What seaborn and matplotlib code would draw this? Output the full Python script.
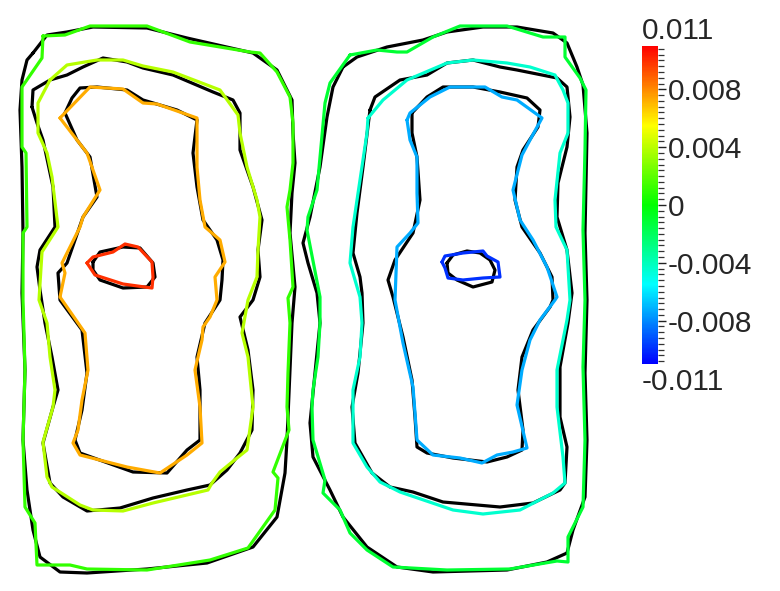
import numpy as np
import matplotlib
matplotlib.use("Agg")
import matplotlib.pyplot as plt
import seaborn as sns
from matplotlib.colors import LinearSegmentedColormap, Normalize
from matplotlib.cm import ScalarMappable
from matplotlib.ticker import MultipleLocator, FixedLocator, FixedFormatter

sns.set_style("white")
plt.rcParams["font.family"] = ["Liberation Sans", "DejaVu Sans"]

# colour scale
VMIN, VMAX = -0.011, 0.011
CBAR_TICKS = [-0.008, -0.004, 0.0, 0.004, 0.008]
CBAR_LABELS = ["-0.008", "-0.004", "0", "0.004", "0.008"]
CBAR_END_LABELS = ["-0.011", "0.011"]

# contour levels of the coloured lines (outer -> inner)
LEFT_LEVELS = [0.0011, 0.0039, 0.0073, 0.0099]
RIGHT_LEVELS = [-0.0011, -0.0044, -0.0073, -0.0099]

# ---- left region, computed contours (coloured) ----
LEFT_C1 = [(43, 36), (65, 35), (90, 26), (147, 26), (190, 42), (250, 52), (260, 53), (277, 72),
           (290, 97), (293, 123), (293, 163), (290, 190), (287, 207), (290, 240), (293, 287),
           (288, 298), (290, 323), (288, 373), (287, 407), (289, 430), (273, 472), (278, 478),
           (275, 510), (248, 548), (210, 560), (147, 570), (87, 569), (70, 565), (37, 565),
           (35, 523), (25, 507), (23, 440), (25, 370), (23, 300), (23, 233), (27, 227),
           (26, 153), (22, 147), (22, 87), (42, 58), (43, 36)]
LEFT_C2 = [(50, 80), (67, 65), (97, 60), (123, 60), (143, 66), (173, 72), (220, 90), (238, 115),
           (240, 133), (247, 167), (257, 200), (260, 217), (258, 250), (257, 277), (248, 300),
           (242, 333), (248, 357), (253, 407), (247, 450), (237, 458), (220, 472), (212, 483),
           (208, 490), (153, 503), (123, 511), (93, 510), (80, 505), (52, 487), (47, 477),
           (43, 442), (53, 407), (55, 390), (50, 357), (47, 323), (39, 300), (42, 252),
           (58, 227), (52, 177), (47, 153), (38, 133), (38, 103), (50, 80)]
LEFT_C3 = [(60, 118), (90, 87), (123, 89), (143, 103), (157, 104), (197, 118), (197, 167),
           (200, 200), (205, 227), (220, 240), (225, 262), (215, 277), (217, 300), (210, 317),
           (203, 327), (202, 340), (195, 370), (200, 407), (202, 443), (187, 455), (160, 473),
           (127, 467), (80, 455), (73, 443), (78, 430), (82, 400), (88, 370), (85, 333),
           (60, 297), (65, 273), (62, 263), (80, 227), (83, 217), (100, 190), (87, 153), (60, 118)]
LEFT_C4 = [(87, 263), (93, 257), (113, 252), (125, 244), (138, 247), (152, 262), (153, 277),
           (152, 288), (123, 284), (95, 275), (87, 263)]

# ---- left region, reference contours (black) ----
LEFT_R1 = [(33, 53), (47, 35), (67, 32), (93, 27), (147, 28), (187, 38), (253, 53), (277, 70),
           (292, 100), (293, 133), (295, 163), (292, 193), (290, 233), (295, 287), (292, 323),
           (287, 440), (285, 473), (277, 517), (253, 547), (207, 563), (147, 569), (87, 573),
           (60, 572), (40, 557), (33, 530), (27, 490), (23, 440), (25, 370), (22, 293),
           (23, 233), (22, 167), (20, 110), (22, 80), (27, 60), (33, 53)]
LEFT_R2 = [(32, 107), (33, 90), (50, 80), (67, 75), (83, 67), (103, 58), (127, 62), (143, 68),
           (173, 75), (213, 92), (233, 100), (240, 113), (240, 150), (253, 187), (262, 220),
           (258, 250), (260, 277), (253, 300), (240, 317), (248, 350), (253, 390), (252, 430),
           (240, 453), (227, 470), (210, 485), (187, 490), (153, 498), (120, 508), (87, 511),
           (63, 497), (50, 483), (43, 443), (53, 407), (58, 390), (52, 357), (45, 323),
           (40, 290), (37, 267), (40, 250), (55, 227), (53, 187), (43, 140), (37, 123), (32, 107)]
LEFT_R3 = [(65, 113), (72, 98), (80, 88), (97, 87), (127, 90), (143, 100), (177, 110), (197, 120),
           (193, 153), (197, 187), (203, 220), (217, 240), (223, 260), (222, 280), (220, 300),
           (205, 323), (197, 357), (200, 390), (200, 440), (187, 450), (167, 473), (133, 472),
           (80, 453), (75, 440), (82, 410), (87, 373), (82, 330), (60, 300), (58, 273),
           (67, 263), (83, 217), (97, 197), (90, 157), (77, 140), (65, 113)]
LEFT_R4 = [(93, 262), (100, 252), (123, 247), (140, 248), (153, 263), (155, 277), (147, 287),
           (123, 288), (100, 280), (93, 270), (93, 262)]

# ---- right region, computed contours (coloured) ----
RIGHT_C1 = [(350, 55), (377, 50), (397, 52), (407, 52), (433, 37), (460, 26), (507, 26), (543, 37),
            (565, 37), (565, 57), (580, 78), (586, 90), (585, 150), (583, 230), (585, 300),
            (583, 367), (585, 440), (583, 507), (568, 537), (568, 562), (557, 561), (510, 569),
            (447, 570), (393, 567), (367, 550), (350, 533), (340, 510), (323, 493), (325, 480),
            (313, 440), (312, 407), (313, 390), (318, 357), (320, 323), (320, 297), (307, 230),
            (308, 217), (317, 190), (325, 103), (330, 83), (350, 55)]
RIGHT_C2 = [(368, 118), (383, 100), (407, 80), (447, 63), (473, 60), (507, 63), (530, 67),
            (555, 75), (563, 90), (568, 103), (568, 133), (560, 153), (555, 200), (556, 227),
            (567, 250), (570, 300), (567, 320), (557, 370), (557, 407), (563, 457), (565, 483),
            (553, 493), (520, 510), (483, 514), (453, 510), (400, 492), (380, 482), (367, 467),
            (353, 443), (353, 390), (360, 357), (362, 323), (360, 297), (350, 263), (353, 227),
            (367, 133), (368, 118)]
RIGHT_C3 = [(407, 120), (410, 113), (430, 97), (450, 87), (485, 87), (502, 97), (517, 100),
            (542, 118), (530, 140), (522, 155), (513, 190), (520, 220), (533, 240), (547, 267),
            (557, 297), (555, 300), (540, 320), (530, 340), (522, 370), (517, 405), (527, 448),
            (513, 452), (497, 455), (482, 463), (460, 458), (433, 455), (417, 440), (415, 413),
            (413, 387), (403, 343), (395, 300), (397, 247), (410, 233), (418, 223), (417, 193),
            (417, 157), (410, 140), (407, 120)]
RIGHT_C4 = [(442, 262), (445, 256), (463, 253), (483, 251), (487, 256), (498, 262), (500, 277),
            (483, 278), (463, 280), (448, 278), (445, 268), (442, 262)]

# ---- right region, reference contours (black) ----
RIGHT_R1 = [(343, 67), (357, 57), (387, 47), (423, 40), (447, 32), (483, 27), (517, 27), (553, 33),
            (567, 43), (577, 67), (583, 85), (587, 133), (585, 233), (587, 300), (585, 373),
            (587, 440), (585, 497), (573, 530), (567, 553), (547, 562), (507, 570), (433, 572),
            (397, 567), (367, 547), (343, 517), (330, 490), (313, 457), (310, 423), (315, 373),
            (320, 323), (317, 293), (308, 263), (303, 243), (310, 217), (320, 167), (327, 117),
            (333, 87), (343, 67)]
RIGHT_R2 = [(370, 110), (375, 97), (400, 80), (427, 75), (447, 63), (473, 60), (500, 67),
            (517, 70), (557, 78), (567, 87), (570, 117), (567, 147), (558, 183), (557, 217),
            (567, 250), (572, 293), (568, 323), (560, 367), (560, 417), (567, 447), (565, 483),
            (560, 490), (533, 503), (500, 507), (443, 502), (413, 492), (390, 487), (372, 473),
            (355, 443), (352, 407), (358, 373), (363, 323), (362, 293), (360, 277), (353, 253),
            (357, 213), (363, 167), (370, 110)]
RIGHT_R3 = [(412, 113), (427, 97), (443, 87), (473, 87), (500, 92), (527, 98), (540, 110),
            (538, 127), (523, 150), (517, 167), (515, 200), (522, 227), (540, 253), (552, 277),
            (553, 300), (550, 307), (533, 330), (522, 357), (518, 390), (523, 430), (522, 450),
            (507, 457), (487, 462), (453, 458), (427, 453), (417, 447), (415, 417), (412, 380),
            (403, 337), (393, 297), (388, 280), (395, 260), (413, 233), (420, 200), (417, 157),
            (412, 133), (412, 113)]
RIGHT_R4 = [(447, 263), (453, 255), (467, 251), (480, 253), (490, 260), (495, 270), (492, 282),
            (473, 287), (457, 280), (448, 273), (447, 263)]


cmap = LinearSegmentedColormap.from_list(
    "bluered", ["#0000ff", "#00ffff", "#00ff00", "#ffff00", "#ff0000"])
norm = Normalize(VMIN, VMAX)


def draw_line(ax, pts, color):
    pts = np.asarray(pts, dtype=float)
    sns.lineplot(x=pts[:, 0], y=pts[:, 1], sort=False, estimator=None,
                 color=color, lw=2.3, ax=ax, solid_joinstyle="round")


fig = plt.figure(figsize=(7.8, 5.91), dpi=100)
ax = fig.add_axes([0, 0, 600 / 780, 1])

# reference contours first, computed ones on top
for pts in [LEFT_R1, LEFT_R2, LEFT_R3, LEFT_R4, RIGHT_R1, RIGHT_R2, RIGHT_R3, RIGHT_R4]:
    draw_line(ax, pts, "black")
for pts, lev in zip([LEFT_C1, LEFT_C2, LEFT_C3, LEFT_C4], LEFT_LEVELS):
    draw_line(ax, pts, cmap(norm(lev)))
for pts, lev in zip([RIGHT_C1, RIGHT_C2, RIGHT_C3, RIGHT_C4], RIGHT_LEVELS):
    draw_line(ax, pts, cmap(norm(lev)))

ax.set_xlim(0, 600)
ax.set_ylim(591, 0)
ax.axis("off")

# colour bar
cax = fig.add_axes([642 / 780, (591 - 364) / 591, 16 / 780, 318 / 591])
cb = fig.colorbar(ScalarMappable(norm=norm, cmap=cmap), cax=cax)
cb.outline.set_visible(False)
cax.yaxis.set_major_locator(FixedLocator(CBAR_TICKS))
cax.yaxis.set_major_formatter(FixedFormatter(CBAR_LABELS))
cax.yaxis.set_minor_locator(MultipleLocator(0.0004))
cax.tick_params(which="major", direction="out", length=6, width=1, color="#222222",
                labelsize=21.5, pad=1, right=True)
cax.tick_params(which="minor", direction="out", length=4, width=0.9, color="#333333")
cax.text(0, 1.004, CBAR_END_LABELS[1], transform=cax.transAxes, ha="left", va="bottom",
         fontsize=21.5)
cax.text(0, -0.012, CBAR_END_LABELS[0], transform=cax.transAxes, ha="left", va="top",
         fontsize=21.5)

fig.savefig("out.png", dpi=100, facecolor="white")
